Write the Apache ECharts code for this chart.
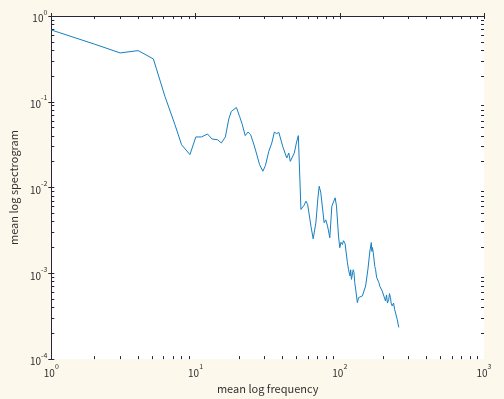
<!DOCTYPE html>
<html>
<head>
<meta charset="utf-8">
<script src="https://cdn.jsdelivr.net/npm/echarts@6/dist/echarts.min.js"></script>
<style>
  html, body { margin: 0; padding: 0; background: #fcf8ec; }
  #main { width: 504px; height: 399px; }
</style>
</head>
<body>
<div id="main"></div>
<script>
// mean log frequency (x) and mean log spectrogram (y)
const freq = [1, 2, 3, 4, 5.1, 6.14, 7.2, 8, 9.14, 10.05, 11, 12.1, 13, 14.2, 15.1, 16.1, 17, 17.7, 19.2, 20.2,
  21.1, 22.1, 23.1, 24.1, 25.2, 26.4, 27.8, 29.3, 30.5, 32.2, 33.8, 35.2, 36.5, 37.8, 40.2, 42.9, 44.3, 45.4, 48.4, 50,
  51.6, 52.4, 53.8, 55.3, 56.5, 58.3, 59.9, 63.1, 65.4, 68.3, 70.5, 72, 73.9, 75.5, 77.9, 80, 82.3, 85.3, 88.1, 92.9,
  94.9, 98, 100, 102, 104.4, 106, 108.8, 110.5, 113, 115, 117.8, 119, 120.5, 122.3, 124, 125.5, 127, 128.9, 132.4, 135,
  137.3, 143.4, 151.1, 156.7, 161.8, 165.4, 167, 168.5, 170.7, 175, 177.1, 180, 186.6, 190, 196.9, 200, 207.5, 211, 214, 218.8,
  221, 224.8, 227, 230.8, 236, 240, 243.4, 250, 256.5];
const spec = [0.687, 0.469, 0.371, 0.395, 0.316, 0.115, 0.054, 0.0316, 0.0242, 0.0389, 0.0389, 0.0421, 0.0368, 0.0361, 0.0331, 0.0389, 0.0629, 0.0771, 0.0858, 0.0675,
  0.0541, 0.0403, 0.0444, 0.0413, 0.0331, 0.0253, 0.0185, 0.0155, 0.018, 0.0264, 0.0331, 0.0444, 0.0425, 0.044, 0.0302, 0.0221, 0.0253, 0.0202, 0.0253, 0.033,
  0.0403, 0.0194, 0.00555, 0.00555, 0.0062, 0.00694, 0.00634, 0.00355, 0.00253, 0.00389, 0.0075, 0.01035, 0.00867, 0.0088, 0.00389, 0.0042, 0.00355, 0.0026, 0.00607, 0.00759,
  0.00607, 0.00272, 0.00199, 0.0023, 0.00217, 0.0024, 0.00223, 0.00228, 0.00133, 0.0011, 0.000931, 0.0011, 0.00085, 0.000851, 0.0011, 0.00102, 0.00078, 0.000652, 0.000456, 0.00052,
  0.000521, 0.000545, 0.000711, 0.00111, 0.00182, 0.00228, 0.0018, 0.002, 0.00174, 0.0012, 0.00111, 0.0009, 0.00078, 0.0007, 0.000622, 0.0006, 0.000476, 0.00056, 0.00045, 0.000499,
  0.00058, 0.000521, 0.00045, 0.000417, 0.00045, 0.00038, 0.000381, 0.000292, 0.000234];

const xDecades = [1, 10, 100];          // x axis 10^0 .. 10^3
const yDecades = [1e-4, 1e-3, 1e-2, 1e-1]; // y axis 10^-4 .. 10^0
const minorSteps = [2, 3, 4, 5, 6, 7, 8, 9];

function minorLogs(decades) {
  const out = [];
  decades.forEach(d => minorSteps.forEach(k => out.push(Math.log10(k * d))));
  return out;
}
const xMinor = minorLogs(xDecades);
const yMinor = minorLogs(yDecades);

const axisColor = '#26263a';
const textColor = '#303030';
const font = 'Noto Sans CJK JP';

const powLabel = {
  color: textColor,
  fontFamily: font,
  formatter: v => '{b|10}{s|' + Math.round(Math.log10(v)) + '}',
  rich: {
    b: { fontSize: 10, fontFamily: font, color: textColor, lineHeight: 15, verticalAlign: 'bottom' },
    s: { fontSize: 7, fontFamily: font, color: textColor, lineHeight: 15, verticalAlign: 'top' }
  }
};

function logAxis(pos, min, max, split, labels, extra) {
  return Object.assign({
    type: 'log', logBase: 10, position: pos, min: min, max: max, splitNumber: split,
    axisLine: { show: true, lineStyle: { color: axisColor, width: 1 } },
    axisTick: { show: true, inside: true, length: 3, lineStyle: { color: axisColor } },
    axisLabel: labels ? powLabel : { show: false },
    splitLine: { show: false },
    minorTick: { show: false }
  }, extra || {});
}

function minorAxis(pos, min, max, vals) {
  return {
    type: 'value', position: pos, min: min, max: max,
    axisLine: { show: false },
    axisTick: { show: true, inside: true, length: 3, customValues: vals, lineStyle: { color: axisColor } },
    axisLabel: { show: false },
    splitLine: { show: false }
  };
}

const chart = echarts.init(document.getElementById('main'), null, { renderer: 'canvas' });

chart.setOption({
  animation: false,
  backgroundColor: '#fcf8ec',
  grid: { left: 49, right: 20, top: 16, bottom: 39, show: true, backgroundColor: '#ffffff', borderWidth: 0 },
  xAxis: [
    logAxis('bottom', 1, 1000, 3, true, {
      name: 'mean log frequency', nameLocation: 'middle', nameGap: 19,
      nameTextStyle: { fontFamily: font, fontSize: 11, color: textColor },
      axisLabel: Object.assign({}, powLabel, { margin: 4 })
    }),
    logAxis('top', 1, 1000, 3, false),
    minorAxis('bottom', 0, 3, xMinor),
    minorAxis('top', 0, 3, xMinor)
  ],
  yAxis: [
    logAxis('left', 1e-4, 1, 4, true, {
      name: 'mean log spectrogram', nameLocation: 'middle', nameGap: 26,
      nameTextStyle: { fontFamily: font, fontSize: 11, color: textColor },
      axisLabel: Object.assign({}, powLabel, { margin: 4 })
    }),
    logAxis('right', 1e-4, 1, 4, false),
    minorAxis('left', -4, 0, yMinor),
    minorAxis('right', -4, 0, yMinor)
  ],
  series: [{
    type: 'line',
    xAxisIndex: 0,
    yAxisIndex: 0,
    showSymbol: false,
    smooth: false,
    lineStyle: { color: '#1580c2', width: 1 },
    itemStyle: { color: '#1580c2' },
    data: freq.map((f, i) => [f, spec[i]])
  }]
});
</script>
</body>
</html>
